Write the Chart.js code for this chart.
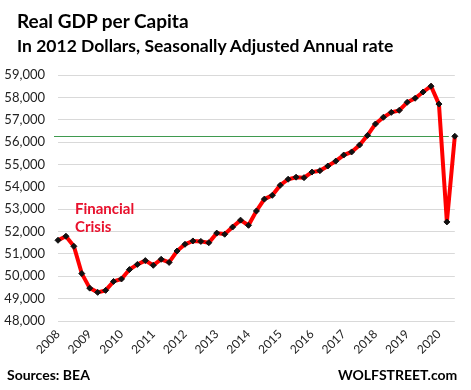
<!DOCTYPE html>
<html>
<head>
<meta charset="utf-8">
<script src="https://cdn.jsdelivr.net/npm/chart.js@4/dist/chart.umd.min.js"></script>
<style>
    body { margin: 0; background: #fff; }
    #wrap { position: relative; width: 471px; height: 390px; font-family: Lato, "Open Sans", sans-serif; }
    #wrap canvas { position: absolute; left: 0; top: 0; }
    .txt { position: absolute; font-weight: bold; color: #000; white-space: nowrap; }
    #title { left: 17px; top: 9px; font-size: 19px; }
    #subtitle { left: 17px; top: 35px; font-size: 17.5px; }
    #note { left: 75px; top: 199px; font-size: 15px; color: #e8112d; line-height: 18px; }
    #source { left: 7px; top: 366px; font-size: 14px; }
    #brand { left: 338px; top: 366px; font-size: 14px; }
</style>
</head>
<body>
<div id="wrap">
    <canvas id="gdpChart" width="471" height="390"></canvas>
    <div class="txt" id="title">Real GDP per Capita</div>
    <div class="txt" id="subtitle">In 2012 Dollars, Seasonally Adjusted Annual rate</div>
    <div class="txt" id="note">Financial<br>Crisis</div>
    <div class="txt" id="source">Sources: BEA</div>
    <div class="txt" id="brand">WOLFSTREET.com</div>
</div>
<script>
// Quarterly data, 2008 Q1 .. 2020 Q3
const years = [2008, 2009, 2010, 2011, 2012, 2013, 2014, 2015, 2016, 2017, 2018, 2019, 2020];
const quarters = [];
years.forEach(y => {
    for (let q = 1; q <= 4; q++) {
        if (y === 2020 && q > 3) break;
        quarters.push(y + ' Q' + q);
    }
});

const gdpPerCapita = [
    51610, 51790, 51340, 50120,
    49470, 49280, 49370, 49770,
    49880, 50300, 50530, 50700,
    50490, 50760, 50620, 51130,
    51430, 51580, 51560, 51500,
    51930, 51880, 52200, 52510,
    52280, 52920, 53450, 53620,
    54070, 54340, 54430, 54410,
    54660, 54720, 54930, 55150,
    55420, 55560, 55870, 56300,
    56810, 57110, 57330, 57420,
    57780, 57960, 58240, 58500,
    57700, 52430, 56260
];

// latest quarter, drawn as a reference line
const latestValue = gdpPerCapita[gdpPerCapita.length - 1];

const refLine = {
    id: 'refLine',
    beforeDatasetsDraw(chart) {
        const { ctx, chartArea, scales } = chart;
        const y = Math.round(scales.y.getPixelForValue(latestValue)) + 0.5;
        ctx.save();
        ctx.strokeStyle = '#3f9a4f';
        ctx.lineWidth = 1;
        ctx.beginPath();
        ctx.moveTo(chartArea.left - 4, y);
        ctx.lineTo(chartArea.right - 6, y);
        ctx.stroke();
        ctx.restore();
    }
};

new Chart(document.getElementById('gdpChart'), {
    type: 'line',
    data: {
        labels: quarters,
        datasets: [{
            data: gdpPerCapita,
            borderColor: '#ff0000',
            borderWidth: 4,
            tension: 0,
            pointStyle: 'rectRot',
            pointRadius: 3,
            pointBackgroundColor: '#111',
            pointBorderColor: '#111',
            pointBorderWidth: 1
        }]
    },
    options: {
        responsive: false,
        animation: false,
        layout: {
            padding: { left: 0, top: 75, right: 9, bottom: 28 }
        },
        plugins: {
            legend: { display: false },
            tooltip: { enabled: false }
        },
        scales: {
            x: {
                offset: false,
                grid: { display: false, drawTicks: false },
                border: { display: false },
                afterFit: s => { s.height = 41; },
                ticks: {
                    autoSkip: false,
                    maxRotation: 45,
                    minRotation: 45,
                    padding: 6,
                    color: '#222',
                    font: { family: 'Lato', size: 12 },
                    callback: function(val, i) {
                        return i % 4 === 0 ? String(years[i / 4]) : '';
                    }
                }
            },
            y: {
                min: 48000,
                max: 59000,
                afterFit: s => { s.width = 58; },
                grid: { color: '#d9d9d9', drawTicks: false },
                border: { display: false },
                ticks: {
                    stepSize: 1000,
                    padding: 13,
                    color: '#222',
                    font: { family: 'Lato', size: 13 },
                    callback: v => v.toLocaleString('en-US')
                }
            }
        }
    },
    plugins: [refLine]
});
</script>
</body>
</html>
